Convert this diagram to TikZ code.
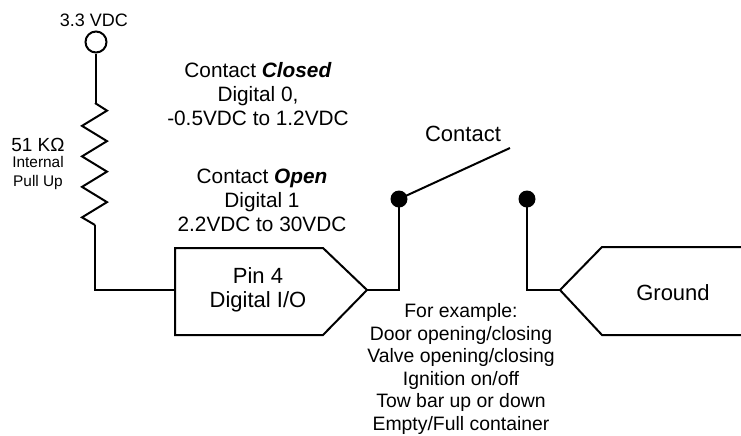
\documentclass[tikz,border=0pt]{standalone}
\usepackage{fontspec}
\setmainfont{Liberation Sans}
\usetikzlibrary{calc}
\usetikzlibrary{positioning}

\tikzset{
  wire/.style={black,line width=1pt},
  contactdot/.style={circle,fill=black,inner sep=0pt,minimum size=8.5pt},
  bigtxt/.style={align=center,font=\fontsize{10.4}{12}\selectfont},
  boxtxt/.style={align=center,font=\fontsize{11}{12}\selectfont},
  listtxt/.style={align=center,font=\fontsize{9.7}{11.3}\selectfont}
}

\begin{document}
\begin{tikzpicture}[x=0.5pt,y=-0.5pt]
\useasboundingbox (0,0) rectangle (741,435);
% supply and pull up
\node[circle,draw,line width=1pt,inner sep=0pt,minimum size=10.5pt] (vcc) at (96,42) {};
\node[font=\fontsize{9}{11}\selectfont] (vcclbl) at (94,20) {3.3 VDC};
\coordinate (rtop) at (95,103);
\coordinate (rbot) at (95,225);
\draw[wire] (vcc.south) |- (rtop);
\draw[wire,line join=miter] (rtop)
  \foreach \i in {0,...,7}
  {
    -- ({ifthenelse(mod(\i,2)==0,107,82)},{103+7.625+15.25*\i})
  } -- (rbot);
\node[align=center,font=\fontsize{9.5}{11}\selectfont] (rval) at (38,145) {51 KΩ};
\node[align=center,font=\fontsize{7.7}{9.5}\selectfont] (rlbl) at (38,173) {Internal\\Pull Up};
% pin 4 input
\coordinate (pinin) at (175,290);
\draw[wire] (175,248) -- (323,248) -- (367,290) -- (323,335) -- (175,335) -- cycle;
\coordinate (pintip) at (367,290);
\node[boxtxt] (pin) at (258,290) {Pin 4\\Digital I/O};
\draw[wire] (rbot) |- (pinin);
% contact
\node[contactdot] (c1) at (399,199) {};
\node[contactdot] (c2) at (527,199) {};
\coordinate (lever) at (510,148);
\draw[wire] (pintip) -| (c1.center);
\draw[wire] (c1.center) -- (lever);
\node[boxtxt] (contact) at (463,134) {Contact};
% ground
\coordinate (gndtip) at (560,290);
\draw[wire] (741,247) -- (602,247) -- (gndtip) -- (602,335) -- (741,335);
\draw[wire] (c2.center) |- (gndtip);
\node[boxtxt] (gnd) at (673,293) {Ground};
% logic levels
\node[bigtxt] (closed) at (258,94) {Contact \textbf{\textit{Closed}}\\Digital 0,\\-0.5VDC to 1.2VDC};
\node[bigtxt] (open) at (262,200) {Contact \textbf{\textit{Open}}\\Digital 1\\2.2VDC to 30VDC};
\node[listtxt] (examples) at (461,369) {For example:\\Door opening/closing\\Valve opening/closing\\Ignition on/off\\Tow bar up or down\\Empty/Full container};
\end{tikzpicture}
\end{document}
